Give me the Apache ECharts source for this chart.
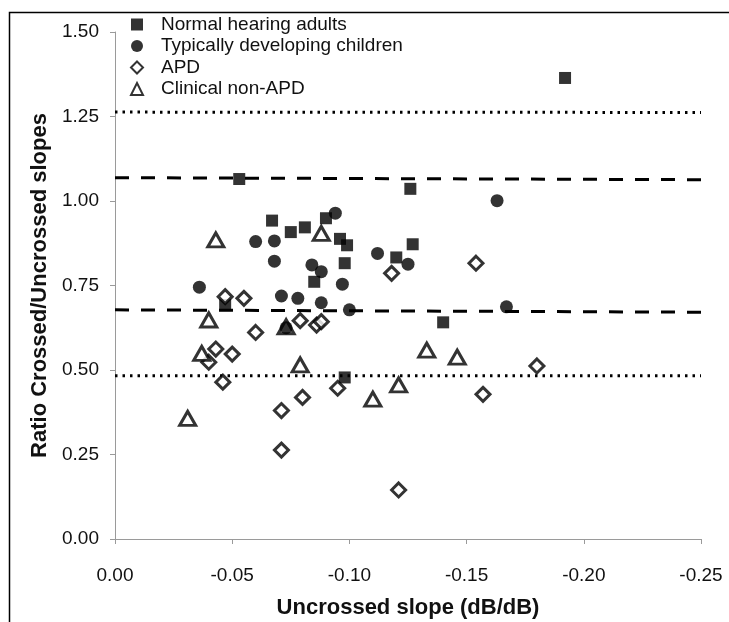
<!DOCTYPE html>
<html>
<head>
<meta charset="utf-8">
<script src="https://cdn.jsdelivr.net/npm/echarts@6/dist/echarts.min.js"></script>
<style>
  html, body { margin: 0; padding: 0; background: #fff; overflow: hidden; }
  #chart { width: 729px; height: 622px; }
</style>
</head>
<body>
<div id="chart"></div>
<script>
// uncrossed slope (x) / ratio crossed-uncrossed (y) per group
var adultsX = [-0.053, -0.067, -0.075, -0.081, -0.090, -0.096, -0.099, -0.098, -0.085, -0.126, -0.127, -0.120, -0.140, -0.047, -0.098, -0.192];
var adultsY = [1.065, 0.942, 0.908, 0.922, 0.949, 0.888, 0.869, 0.816, 0.761, 1.036, 0.872, 0.833, 0.641, 0.692, 0.478, 1.364];

var childrenX = [-0.060, -0.068, -0.068, -0.036, -0.071, -0.078, -0.094, -0.084, -0.088, -0.097, -0.088, -0.100, -0.112, -0.125, -0.163, -0.167, -0.073];
var childrenY = [0.880, 0.882, 0.822, 0.745, 0.719, 0.712, 0.964, 0.811, 0.791, 0.754, 0.699, 0.678, 0.845, 0.813, 1.001, 0.687, 0.625];

var apdX = [-0.047, -0.055, -0.060, -0.079, -0.086, -0.088, -0.118, -0.154, -0.043, -0.040, -0.050, -0.046, -0.071, -0.071, -0.080, -0.095, -0.121, -0.157, -0.180];
var apdY = [0.717, 0.712, 0.611, 0.646, 0.633, 0.643, 0.786, 0.816, 0.562, 0.523, 0.547, 0.464, 0.380, 0.263, 0.419, 0.446, 0.145, 0.428, 0.512];

var clinicalX = [-0.043, -0.040, -0.073, -0.088, -0.037, -0.031, -0.079, -0.110, -0.121, -0.133, -0.146];
var clinicalY = [0.885, 0.648, 0.628, 0.904, 0.549, 0.357, 0.515, 0.414, 0.456, 0.559, 0.538];

// reference lines, drawn from x = 0 to x = -0.25
var refX = [0, -0.25];
var dottedHigh = [1.263, 1.262];
var dashedHigh = [1.069, 1.063];
var dashedLow = [0.678, 0.671];
var dottedLow = [0.483, 0.483];

var groupNames = ['Normal hearing adults', 'Typically developing children', 'APD', 'Clinical non-APD'];

function pairs(xs, ys) {
  return xs.map(function (x, i) { return [x, ys[i]]; });
}

function refLine(ys, dash) {
  return {
    type: 'line',
    data: pairs(refX, ys),
    symbol: 'none',
    silent: true,
    z: 1,
    lineStyle: { color: '#000', width: 3, type: dash }
  };
}

var font = "'Liberation Sans', Arial, sans-serif";

var chart = echarts.init(document.getElementById('chart'));
chart.setOption({
  animation: false,
  backgroundColor: '#fff',
  textStyle: { fontFamily: font },
  graphic: [{
    type: 'rect',
    left: 7,
    top: 10,
    shape: { width: 740, height: 640 },
    style: { fill: 'none', stroke: '#000', lineWidth: 1.5 },
    silent: true
  }],
  legend: {
    data: groupNames,
    orient: 'vertical',
    left: 125,
    top: 10,
    itemWidth: 12,
    itemHeight: 12,
    itemGap: 2.5,
    textStyle: { fontSize: 19, color: '#111', fontFamily: font, lineHeight: 19, padding: [0, 0, 0, 13] }
  },
  grid: { left: 115, right: 28, top: 32, bottom: 83, containLabel: false, outerBoundsMode: 'none' },
  xAxis: {
    type: 'value',
    inverse: true,
    min: -0.25,
    max: 0,
    interval: 0.05,
    name: 'Uncrossed slope (dB/dB)',
    nameLocation: 'middle',
    nameGap: 58,
    nameTextStyle: { fontSize: 22, fontWeight: 'bold', color: '#111', fontFamily: font },
    axisLine: { show: true, lineStyle: { color: '#9a9a9a', width: 1 } },
    axisTick: { show: true, length: 5, lineStyle: { color: '#9a9a9a' } },
    axisLabel: {
      margin: 27,
      fontSize: 19,
      color: '#111',
      formatter: function (v) { return (Math.abs(v) < 1e-9 ? 0 : v).toFixed(2); }
    },
    splitLine: { show: false }
  },
  yAxis: {
    type: 'value',
    min: 0,
    max: 1.5,
    interval: 0.25,
    name: 'Ratio Crossed/Uncrossed slopes',
    nameLocation: 'middle',
    nameGap: 64,
    nameTextStyle: { fontSize: 22, fontWeight: 'bold', color: '#111', fontFamily: font },
    axisLine: { show: true, lineStyle: { color: '#9a9a9a', width: 1 } },
    axisTick: { show: true, length: 5, lineStyle: { color: '#9a9a9a' } },
    axisLabel: {
      margin: 16,
      fontSize: 19,
      color: '#111',
      formatter: function (v) { return v.toFixed(2); }
    },
    splitLine: { show: false }
  },
  series: [
    refLine(dottedHigh, [2.5, 5]),
    refLine(dashedHigh, [14, 12]),
    refLine(dashedLow, [14, 12]),
    refLine(dottedLow, [2.5, 5]),
    {
      name: groupNames[0],
      type: 'scatter',
      data: pairs(adultsX, adultsY),
      symbol: 'rect',
      symbolSize: 12,
      z: 3,
      itemStyle: { color: '#000' }
    },
    {
      name: groupNames[1],
      type: 'scatter',
      data: pairs(childrenX, childrenY),
      symbol: 'circle',
      symbolSize: 13,
      z: 5,
      itemStyle: { color: '#000' }
    },
    {
      name: groupNames[2],
      type: 'scatter',
      data: pairs(apdX, apdY),
      symbol: 'diamond',
      symbolSize: 14,
      z: 4,
      itemStyle: { color: '#fff', borderColor: '#000', borderWidth: 3 }
    },
    {
      name: groupNames[3],
      type: 'scatter',
      data: pairs(clinicalX, clinicalY),
      symbol: 'triangle',
      symbolSize: [16, 14],
      z: 4,
      itemStyle: { color: '#fff', borderColor: '#000', borderWidth: 3 }
    }
  ]
});
</script>
</body>
</html>
